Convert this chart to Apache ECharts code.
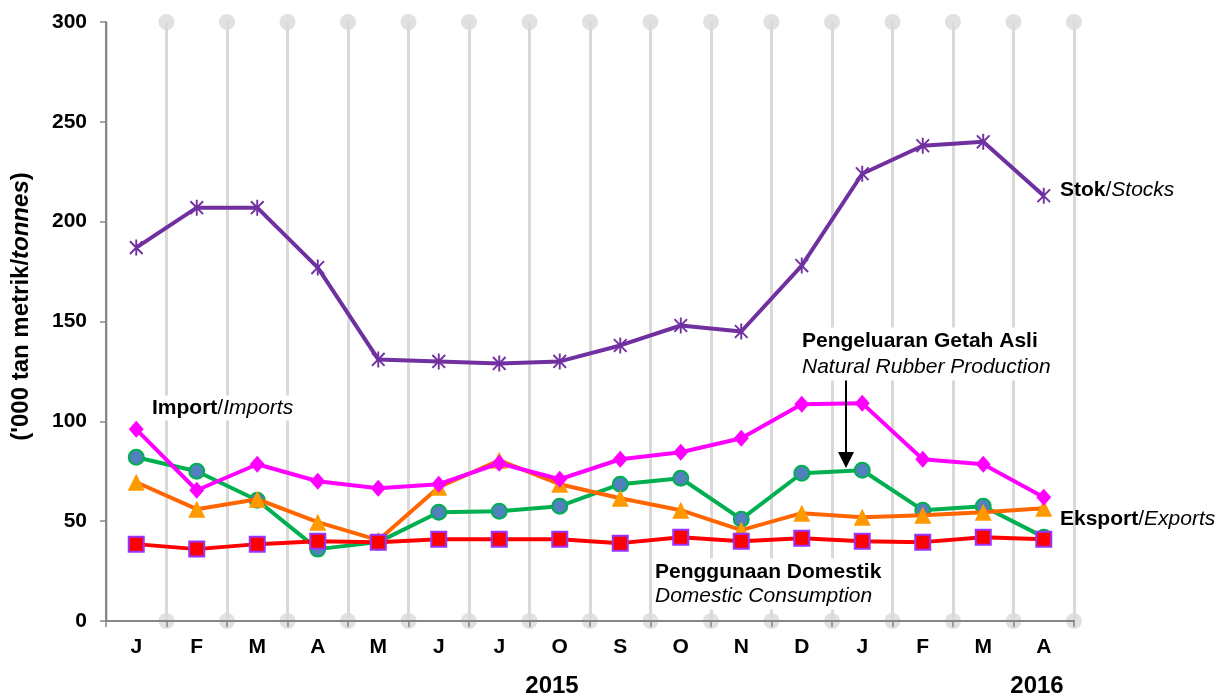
<!DOCTYPE html>
<html>
<head>
<meta charset="utf-8">
<script src="https://cdn.jsdelivr.net/npm/echarts@6/dist/echarts.min.js"></script>
<style>
  html, body { margin: 0; padding: 0; background: #fff; }
  #chart { width: 1227px; height: 697px; }
</style>
</head>
<body>
<div id="chart"></div>
<script>
// data ('000 tonnes), Jan 2015 - Apr 2016
var months = ['J', 'F', 'M', 'A', 'M', 'J', 'J', 'O', 'S', 'O', 'N', 'D', 'J', 'F', 'M', 'A'];
var stocks = [187, 207, 207, 177, 131, 130, 129, 130, 138, 148, 145, 178, 224, 238, 240, 213];
var imports = [96, 65.5, 78.5, 70, 66.5, 68.5, 79, 71, 81, 84.5, 91.5, 108.5, 109, 81, 78.5, 62];
var production = [82, 75, 60.5, 36, 39.5, 54.5, 55, 57.5, 68.5, 71.5, 51, 74, 75.5, 55.5, 57.5, 42];
var exportsData = [69.5, 56, 61, 49.5, 40.5, 67, 80.5, 68.5, 61.5, 55.5, 45.5, 54, 52, 53, 54.5, 56.5];
var domestic = [38.5, 36, 38.5, 40, 39.5, 41, 41, 41, 39, 42, 40, 41.5, 40, 39.5, 42, 41];
var yTicks = [0, 50, 100, 150, 200, 250, 300];

// grey lollipop heads at each month boundary (top and bottom)
var dots = [];
for (var i = 1; i <= months.length; i++) {
    dots.push([i, yTicks[0]]);
    dots.push([i, yTicks[yTicks.length - 1]]);
}

var starPath = 'path://M-0.12,-1L0.12,-1L0.12,1L-0.12,1Z' +
    'M-0.715,-0.885L0.885,0.715L0.715,0.885L-0.885,-0.715Z' +
    'M0.715,-0.885L0.885,-0.715L-0.715,0.885L-0.885,0.715Z';

var chart = echarts.init(document.getElementById('chart'));
var font = 'Liberation Sans, Arial, sans-serif';

// annotation label helper
function label(x, y, text, opts) {
    var style = {
        x: x, y: y, text: text,
        fontSize: 21, fontFamily: font, fill: '#000',
        align: 'left', verticalAlign: 'middle'
    };
    for (var k in opts) style[k] = opts[k];
    return { type: 'text', z: 30, style: style };
}
var rich = {
    b: { fontWeight: 'bold', fontSize: 21, fontFamily: font, fill: '#000' },
    n: { fontSize: 21, fontFamily: font, fill: '#000' },
    i: { fontStyle: 'italic', fontSize: 21, fontFamily: font, fill: '#000' }
};

chart.setOption({
    animation: false,
    textStyle: { fontFamily: font },
    grid: { left: 106, right: 153, top: 22, bottom: 76, containLabel: false, outerBoundsMode: 'none' },
    xAxis: [{
        type: 'category',
        data: months,
        boundaryGap: true,
        axisLine: { lineStyle: { color: '#868686', width: 2 } },
        axisTick: { show: true, length: 6, lineStyle: { color: '#868686', width: 1.5 } },
        axisLabel: { color: '#000', fontWeight: 'bold', fontSize: 21, margin: 16, fontFamily: font },
        splitLine: { show: false },
        z: 3
    }, {
        type: 'value',
        min: 0,
        max: months.length,
        interval: 1,
        show: true,
        axisLine: { show: false },
        axisTick: { show: false },
        axisLabel: { show: false },
        splitLine: { show: true, lineStyle: { color: '#D9D9D9', width: 3 } }
    }],
    yAxis: {
        type: 'value',
        min: 0,
        max: 300,
        interval: 50,
        name: "{b|('000 tan metrik/}{i|tonnes}{b|)}",
        nameLocation: 'middle',
        nameRotate: 90,
        nameGap: 73,
        nameTextStyle: {
            padding: [0, 0, 0, 30],
            rich: {
                b: { fontWeight: 'bold', fontSize: 24, color: '#000', fontFamily: font },
                i: { fontStyle: 'italic', fontWeight: 'bold', fontSize: 24, color: '#000', fontFamily: font }
            }
        },
        axisLine: { show: true, lineStyle: { color: '#868686', width: 2 } },
        axisTick: { show: true, length: 6, lineStyle: { color: '#868686', width: 1.5 } },
        axisLabel: { color: '#000', fontWeight: 'bold', fontSize: 21, margin: 19, fontFamily: font },
        splitLine: { show: false }
    },
    series: [{
        name: 'dots',
        type: 'scatter',
        xAxisIndex: 1,
        data: dots,
        symbol: 'circle',
        symbolSize: 16,
        itemStyle: { color: '#D9D9D9' },
        clip: false,
        silent: true,
        z: 1
    }, {
        name: 'Natural Rubber Production',
        type: 'line',
        data: production,
        symbol: 'circle',
        symbolSize: 15,
        lineStyle: { color: '#00B050', width: 4 },
        itemStyle: { color: '#4F81BD', borderColor: '#00B050', borderWidth: 2 },
        z: 4
    }, {
        name: 'Exports',
        type: 'line',
        data: exportsData,
        symbol: 'triangle',
        symbolSize: 17,
        lineStyle: { color: '#FF6600', width: 4 },
        itemStyle: { color: '#FF9900', borderWidth: 0 },
        z: 5
    }, {
        name: 'Imports',
        type: 'line',
        data: imports,
        symbol: 'diamond',
        symbolSize: [15, 17],
        lineStyle: { color: '#FF00FF', width: 4 },
        itemStyle: { color: '#FF00FF', borderWidth: 0 },
        z: 6
    }, {
        name: 'Domestic Consumption',
        type: 'line',
        data: domestic,
        symbol: 'rect',
        symbolSize: 15,
        lineStyle: { color: '#FF0000', width: 4 },
        itemStyle: { color: '#FF0000', borderColor: '#9933FF', borderWidth: 2 },
        z: 7
    }, {
        name: 'Stocks',
        type: 'line',
        data: stocks,
        symbol: starPath,
        symbolSize: [14, 16],
        lineStyle: { color: '#7030A0', width: 4 },
        itemStyle: { color: '#7030A0', borderWidth: 0 },
        z: 8
    }],
    graphic: [
        label(1060, 190, '{b|Stok}{n|/}{i|Stocks}', { rich: rich }),
        label(152, 408, '{b|Import}{n|/}{i|Imports}', { rich: rich, backgroundColor: '#fff', padding: [2, 0] }),
        label(1060, 519, '{b|Eksport}{n|/}{i|Exports}', { rich: rich }),
        label(802, 341, 'Pengeluaran Getah Asli', { fontWeight: 'bold', backgroundColor: '#fff', padding: [3, 0] }),
        label(802, 367, 'Natural Rubber Production', { fontStyle: 'italic', backgroundColor: '#fff', padding: [3, 0] }),
        label(655, 572, 'Penggunaan Domestik', { fontWeight: 'bold', backgroundColor: '#fff', padding: [3, 0] }),
        label(655, 596, 'Domestic Consumption', { fontStyle: 'italic', backgroundColor: '#fff', padding: [3, 0] }),
        { type: 'line', shape: { x1: 846, y1: 380, x2: 846, y2: 455 }, style: { stroke: '#000', lineWidth: 2 }, z: 20 },
        { type: 'polygon', shape: { points: [[838, 452], [854, 452], [846, 468]] }, style: { fill: '#000' }, z: 20 },
        { type: 'text', z: 30, style: { x: 552, y: 686, text: '2015', align: 'center', verticalAlign: 'middle',
            fontWeight: 'bold', fontSize: 24, fontFamily: font, fill: '#000' } },
        { type: 'text', z: 30, style: { x: 1037, y: 686, text: '2016', align: 'center', verticalAlign: 'middle',
            fontWeight: 'bold', fontSize: 24, fontFamily: font, fill: '#000' } }
    ]
});

window.addEventListener('resize', function () {
    chart.resize();
});
</script>
</body>
</html>
